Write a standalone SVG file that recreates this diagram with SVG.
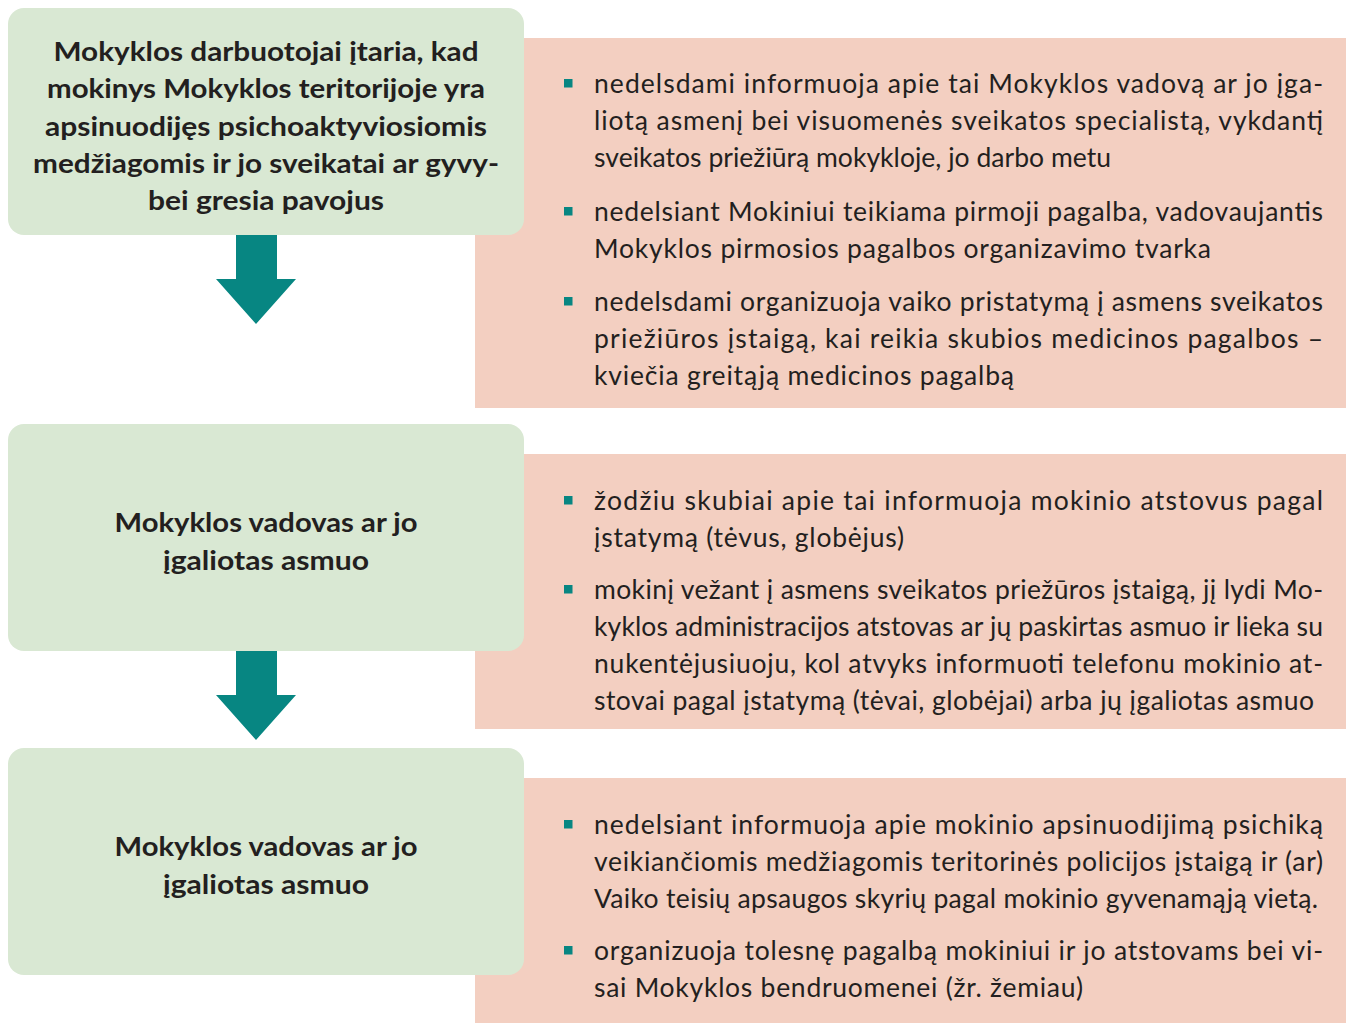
<svg xmlns="http://www.w3.org/2000/svg" width="1346" height="1023" viewBox="0 0 1346 1023">
<style>
.pink{fill:#f3cfc1}
.green{fill:#d9e8d3}
.arrow{fill:#078682}
.bul{fill:#078682}
.t{font-family:Lato,"Liberation Sans",sans-serif;font-size:26.5px;fill:#231f20}
.b{font-family:Lato,"Liberation Sans",sans-serif;font-size:27px;font-weight:bold;fill:#231f20;text-anchor:middle}
</style>
<defs>
<rect id="sq" width="8.5" height="8.5" class="bul"/>
</defs>
<rect width="1346" height="1023" fill="#ffffff"/>

<g id="detail1">
<rect class="pink" x="475" y="38" width="871" height="370"/>
<use href="#sq" x="564" y="79"/>
<text class="t" x="594" y="93" textLength="729" lengthAdjust="spacing">nedelsdami informuoja apie tai Mokyklos vadovą ar jo įga-</text>
<text class="t" x="594" y="130" textLength="729" lengthAdjust="spacing">liotą asmenį bei visuomenės sveikatos specialistą, vykdantį</text>
<text class="t" x="594" y="167" textLength="517" lengthAdjust="spacing">sveikatos priežiūrą mokykloje, jo darbo metu</text>
<use href="#sq" x="564" y="207"/>
<text class="t" x="594" y="221" textLength="729" lengthAdjust="spacing">nedelsiant Mokiniui teikiama pirmoji pagalba, vadovaujantis</text>
<text class="t" x="594" y="258" textLength="617" lengthAdjust="spacing">Mokyklos pirmosios pagalbos organizavimo tvarka</text>
<use href="#sq" x="564" y="297"/>
<text class="t" x="594" y="311" textLength="729" lengthAdjust="spacing">nedelsdami organizuoja vaiko pristatymą į asmens sveikatos</text>
<text class="t" x="594" y="348" textLength="729" lengthAdjust="spacing">priežiūros įstaigą, kai reikia skubios medicinos pagalbos –</text>
<text class="t" x="594" y="385" textLength="420" lengthAdjust="spacing">kviečia greitąją medicinos pagalbą</text>
</g>

<g id="detail2">
<rect class="pink" x="475" y="454" width="871" height="275"/>
<use href="#sq" x="564" y="496"/>
<text class="t" x="594" y="510" textLength="729" lengthAdjust="spacing">žodžiu skubiai apie tai informuoja mokinio atstovus pagal</text>
<text class="t" x="594" y="547" textLength="310" lengthAdjust="spacing">įstatymą (tėvus, globėjus)</text>
<use href="#sq" x="564" y="585"/>
<text class="t" x="594" y="599" textLength="729" lengthAdjust="spacing">mokinį vežant į asmens sveikatos priežūros įstaigą, jį lydi Mo-</text>
<text class="t" x="594" y="636" textLength="729" lengthAdjust="spacing">kyklos administracijos atstovas ar jų paskirtas asmuo ir lieka su</text>
<text class="t" x="594" y="673" textLength="729" lengthAdjust="spacing">nukentėjusiuoju, kol atvyks informuoti telefonu mokinio at-</text>
<text class="t" x="594" y="710" textLength="720" lengthAdjust="spacing">stovai pagal įstatymą (tėvai, globėjai) arba jų įgaliotas asmuo</text>
</g>

<g id="detail3">
<rect class="pink" x="475" y="778" width="871" height="245"/>
<use href="#sq" x="564" y="820"/>
<text class="t" x="594" y="834" textLength="729" lengthAdjust="spacing">nedelsiant informuoja apie mokinio apsinuodijimą psichiką</text>
<text class="t" x="594" y="871" textLength="729" lengthAdjust="spacing">veikiančiomis medžiagomis teritorinės policijos įstaigą ir (ar)</text>
<text class="t" x="594" y="908" textLength="724" lengthAdjust="spacing">Vaiko teisių apsaugos skyrių pagal mokinio gyvenamąją vietą.</text>
<use href="#sq" x="564" y="946"/>
<text class="t" x="594" y="960" textLength="729" lengthAdjust="spacing">organizuoja tolesnę pagalbą mokiniui ir jo atstovams bei vi-</text>
<text class="t" x="594" y="997" textLength="489" lengthAdjust="spacing">sai Mokyklos bendruomenei (žr. žemiau)</text>
</g>

<g id="step1">
<rect class="green" x="8" y="8" width="516" height="227" rx="16"/>
<text class="b" x="266" y="61" textLength="425" lengthAdjust="spacingAndGlyphs">Mokyklos darbuotojai įtaria, kad</text>
<text class="b" x="266" y="98" textLength="438" lengthAdjust="spacingAndGlyphs">mokinys Mokyklos teritorijoje yra</text>
<text class="b" x="266" y="136" textLength="442" lengthAdjust="spacingAndGlyphs">apsinuodijęs psichoaktyviosiomis</text>
<text class="b" x="266" y="173" textLength="466" lengthAdjust="spacingAndGlyphs">medžiagomis ir jo sveikatai ar gyvy-</text>
<text class="b" x="266" y="210" textLength="236" lengthAdjust="spacingAndGlyphs">bei gresia pavojus</text>
</g>

<g id="step2">
<rect class="green" x="8" y="424" width="516" height="227" rx="16"/>
<text class="b" x="266" y="532" textLength="303" lengthAdjust="spacingAndGlyphs">Mokyklos vadovas ar jo</text>
<text class="b" x="266" y="570" textLength="206" lengthAdjust="spacingAndGlyphs">įgaliotas asmuo</text>
</g>

<g id="step3">
<rect class="green" x="8" y="748" width="516" height="227" rx="16"/>
<text class="b" x="266" y="856" textLength="303" lengthAdjust="spacingAndGlyphs">Mokyklos vadovas ar jo</text>
<text class="b" x="266" y="894" textLength="206" lengthAdjust="spacingAndGlyphs">įgaliotas asmuo</text>
</g>

<g id="connectors">
<polygon class="arrow" points="236,235 277,235 277,279 296,279 256,324 216,279 236,279"/>
<polygon class="arrow" points="236,651 277,651 277,695 296,695 256,740 216,695 236,695"/>
</g>
</svg>
